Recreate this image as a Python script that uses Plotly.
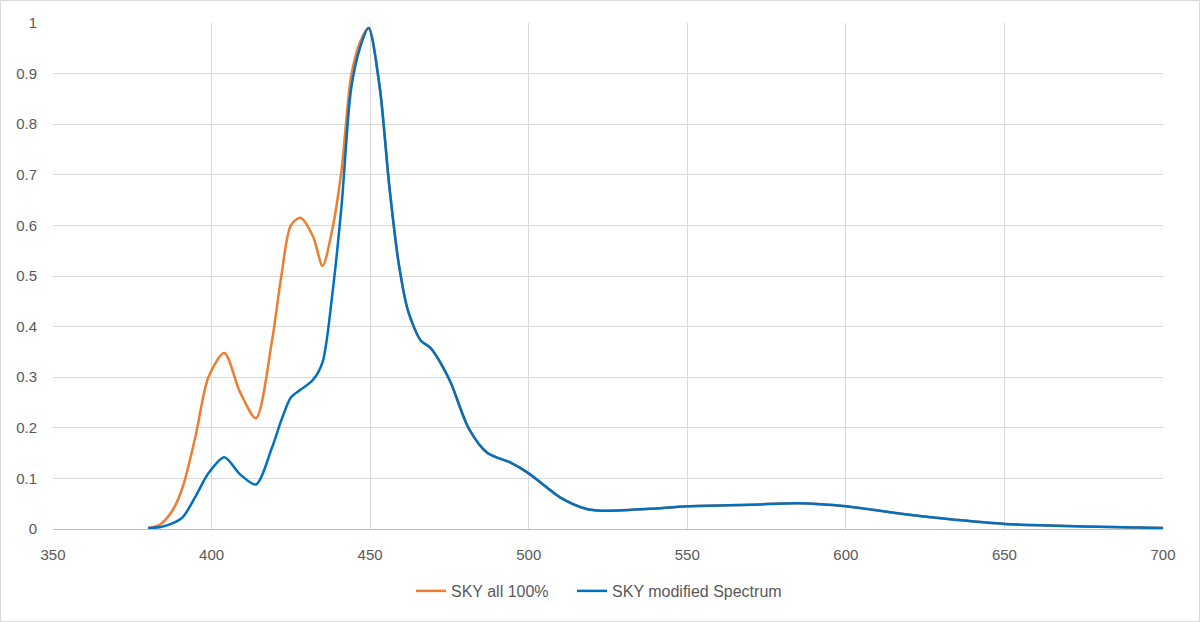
import plotly.graph_objects as go

wavelength = [380, 384, 388, 391, 395, 399, 404, 409, 414, 419, 422, 425, 428, 432, 435, 438, 441, 444, 447, 449.5,
              453, 456, 459, 462, 466, 469, 475, 481, 487, 494, 500, 510, 518, 523, 538, 550, 570, 585, 600, 620,
              635, 650, 675, 700]

sky_all = [0.002, 0.01, 0.04, 0.085, 0.185, 0.30, 0.348, 0.27, 0.219, 0.37, 0.5, 0.6, 0.615, 0.578, 0.52, 0.59,
           0.71, 0.895, 0.965, 0.99,
           0.874, 0.68, 0.525, 0.43, 0.372, 0.358, 0.295, 0.2, 0.15, 0.132, 0.11, 0.062, 0.04, 0.036, 0.04, 0.045,
           0.048, 0.051, 0.045, 0.028, 0.018, 0.01, 0.005, 0.002]

sky_modified = [0.002, 0.004, 0.012, 0.024, 0.065, 0.11, 0.142, 0.108, 0.088, 0.16, 0.215, 0.26, 0.275, 0.295,
                0.33, 0.46, 0.64, 0.87, 0.955, 0.99,
                0.874, 0.68, 0.525, 0.43, 0.372, 0.358, 0.295, 0.2, 0.15, 0.132, 0.11, 0.062, 0.04, 0.036, 0.04,
                0.045, 0.048, 0.051, 0.045, 0.028, 0.018, 0.01, 0.005, 0.002]

x_ticks = [350, 400, 450, 500, 550, 600, 650, 700]
y_ticks = [0, 0.1, 0.2, 0.3, 0.4, 0.5, 0.6, 0.7, 0.8, 0.9, 1]

fig = go.Figure()
fig.add_trace(go.Scatter(x=wavelength, y=sky_all, mode="lines", name="SKY all 100%", legend="legend",
                         line=dict(color="#ED7D31", width=2.5, shape="spline", smoothing=0.8)))
fig.add_trace(go.Scatter(x=wavelength, y=sky_modified, mode="lines", name="SKY modified Spectrum", legend="legend2",
                         line=dict(color="#0070C0", width=2.5, shape="spline", smoothing=0.8)))

font = dict(family="Liberation Sans, Arial, sans-serif", size=15, color="#595959")
lfont = dict(family="Liberation Sans, Arial, sans-serif", size=16, color="#595959")

fig.update_layout(
    width=1200, height=622,
    margin=dict(l=53, r=37, t=23, b=93, autoexpand=False),
    paper_bgcolor="white", plot_bgcolor="white",
    font=font,
    showlegend=True,
    legend=dict(orientation="h", xref="container", x=0.3425, xanchor="left",
                y=-0.1225, yanchor="middle", font=lfont),
    legend2=dict(orientation="h", xref="container", x=0.4767, xanchor="left",
                 y=-0.1225, yanchor="middle", font=lfont),
    xaxis=dict(range=[350, 700], tickvals=x_ticks, showgrid=True, gridcolor="#d9d9d9", gridwidth=1,
               showline=True, linecolor="#bfbfbf", linewidth=1, zeroline=False, ticks="",
               ticklabelstandoff=12, tickfont=font, automargin=False),
    yaxis=dict(range=[0, 1], tickvals=y_ticks, showgrid=True, gridcolor="#d9d9d9", gridwidth=1,
               showline=False, zeroline=False, ticks="", ticklabelstandoff=15, tickfont=font,
               automargin=False),
    shapes=[dict(type="rect", xref="paper", yref="paper",
                 x0=(0.5 - 53) / 1110, x1=(1199.5 - 53) / 1110,
                 y0=(529 - 621.5) / 506, y1=(529 - 0.5) / 506,
                 line=dict(color="#d9d9d9", width=1), fillcolor="rgba(0,0,0,0)", layer="below")],
)

fig.write_html("out.html")
